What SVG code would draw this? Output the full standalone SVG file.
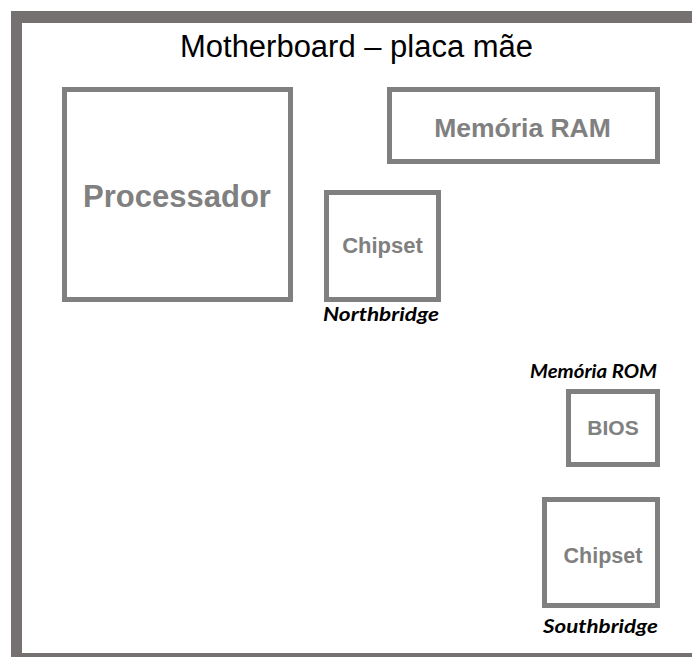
<svg xmlns="http://www.w3.org/2000/svg" width="692" height="657" viewBox="0 0 692 657">
  <style>
    .box { fill: #ffffff; stroke: #808080; stroke-width: 5; }
    .lbl { font-family: "Liberation Sans", Arial, sans-serif; font-weight: bold; fill: #808080; text-anchor: middle; }
    .note { font-family: Lato, "Liberation Sans", Arial, sans-serif; font-weight: bold; font-style: italic; fill: #000000; }
    .title { font-family: "Liberation Sans", Arial, sans-serif; fill: #000000; }
    .frame { fill: #767171; }
  </style>
  <rect x="0" y="0" width="692" height="657" fill="#ffffff"/>
  <g id="frame">
    <rect class="frame" x="11" y="11" width="681" height="12"/>
    <rect class="frame" x="11" y="11" width="11" height="646"/>
    <rect class="frame" x="11" y="653" width="681" height="4"/>
  </g>
  <g id="title">
    <text class="title" x="180" y="57" font-size="31" textLength="353" lengthAdjust="spacingAndGlyphs">Motherboard – placa mãe</text>
  </g>
  <g id="processador">
    <rect class="box" x="64.5" y="89.5" width="226" height="210"/>
    <text class="lbl" x="177" y="207" font-size="31">Processador</text>
  </g>
  <g id="memoria-ram">
    <rect class="box" x="389.5" y="89.5" width="268" height="72"/>
    <text class="lbl" x="522.5" y="137" font-size="26.5">Memória RAM</text>
  </g>
  <g id="chipset-northbridge">
    <rect class="box" x="326.5" y="192.5" width="112" height="107"/>
    <text class="lbl" x="382.5" y="253" font-size="22">Chipset</text>
    <text class="note" x="323" y="321" font-size="19" textLength="116" lengthAdjust="spacingAndGlyphs">Northbridge</text>
  </g>
  <g id="bios">
    <text class="note" x="530" y="378" font-size="19" textLength="127" lengthAdjust="spacingAndGlyphs">Memória ROM</text>
    <rect class="box" x="568.5" y="391.5" width="89" height="73"/>
    <text class="lbl" x="613" y="435" font-size="21">BIOS</text>
  </g>
  <g id="chipset-southbridge">
    <rect class="box" x="544.5" y="499.5" width="113" height="106"/>
    <text class="lbl" x="603" y="563" font-size="21.5">Chipset</text>
    <text class="note" x="543" y="633" font-size="19" textLength="115" lengthAdjust="spacingAndGlyphs">Southbridge</text>
  </g>
  <g id="connectors"/>
</svg>
